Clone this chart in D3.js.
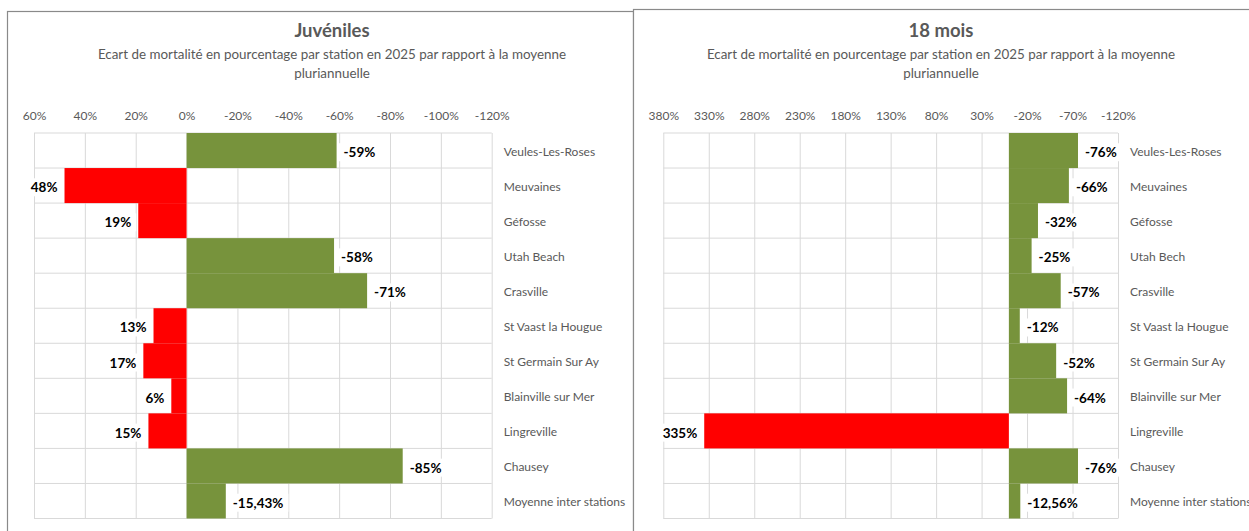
<!DOCTYPE html>
<html>
<head>
<meta charset="utf-8">
<script src="https://cdn.jsdelivr.net/npm/d3@7"></script>
<style>
  body { margin: 0; background: #fff; }
  svg text { font-family: Lato, "Open Sans", sans-serif; }
</style>
</head>
<body>
<div id="chart"></div>
<script>
// stations, top to bottom
const stationsJuv = ['Veules-Les-Roses', 'Meuvaines', 'Géfosse', 'Utah Beach', 'Crasville',
  'St Vaast la Hougue', 'St Germain Sur Ay', 'Blainville sur Mer', 'Lingreville', 'Chausey',
  'Moyenne inter stations'];
const stations18 = ['Veules-Les-Roses', 'Meuvaines', 'Géfosse', 'Utah Bech', 'Crasville',
  'St Vaast la Hougue', 'St Germain Sur Ay', 'Blainville sur Mer', 'Lingreville', 'Chausey',
  'Moyenne inter stations'];

// ecart de mortalite (%)
const juveniles = [-59, 48, 19, -58, -71, 13, 17, 6, 15, -85, -15.43];
const mois18 = [-76, -66, -32, -25, -57, -12, -52, -64, 335, -76, -12.56];

// axis ticks (reversed axes, as in the original)
const ticksJuv = [60, 40, 20, 0, -20, -40, -60, -80, -100, -120];
const ticks18 = [380, 330, 280, 230, 180, 130, 80, 30, -20, -70, -120];

const subtitle1 = 'Ecart de mortalité en pourcentage par station en 2025 par rapport à la moyenne';
const subtitle2 = 'pluriannuelle';

const green = '#77933c';
const red = '#ff0000';
const grey = '#595959';

const svg = d3.select('#chart').append('svg')
    .attr('width', 1249)
    .attr('height', 531);

svg.append('rect').attr('width', 1249).attr('height', 531).attr('fill', '#fff');

const fmt = v => (Number.isInteger(v) ? v : v.toFixed(2).replace('.', ',')) + '%';

function drawChart(opts) {
  const g = svg.append('g');

  // chart frame
  g.append('rect')
      .attr('x', opts.frame[0]).attr('y', opts.frame[1])
      .attr('width', opts.frame[2]).attr('height', 600)
      .attr('fill', '#fff')
      .attr('stroke', '#8a8a8a')
      .attr('stroke-width', 1.2);

  // titles
  g.append('text')
      .attr('x', opts.cx).attr('y', 37)
      .attr('text-anchor', 'middle')
      .attr('font-size', 18.5).attr('font-weight', 'bold')
      .attr('fill', grey)
      .text(opts.title);
  g.append('text')
      .attr('x', opts.cx).attr('y', 59)
      .attr('text-anchor', 'middle')
      .attr('font-size', 13.4).attr('fill', grey)
      .text(subtitle1);
  g.append('text')
      .attr('x', opts.cx).attr('y', 78)
      .attr('text-anchor', 'middle')
      .attr('font-size', 13.4).attr('fill', grey)
      .text(subtitle2);

  const top = 133, bottom = 518.5;
  const x = d3.scaleLinear()
      .domain([opts.ticks[0], opts.ticks[opts.ticks.length - 1]])
      .range([opts.left, opts.right]);
  const y = d3.scaleBand()
      .domain(opts.categories)
      .range([top, bottom])
      .padding(0);

  // vertical grid + tick labels
  const axis = g.append('g')
      .attr('transform', `translate(0,${top})`)
      .call(d3.axisTop(x)
          .tickValues(opts.ticks)
          .tickSize(-(bottom - top))
          .tickPadding(13)
          .tickFormat(d => d + '%'));
  axis.select('.domain').remove();
  axis.selectAll('line').attr('stroke', '#d9d9d9');
  axis.selectAll('text')
      .attr('fill', grey)
      .attr('font-size', 12)
      .style('font-family', 'Lato, "Open Sans", sans-serif');

  // horizontal grid
  const bounds = opts.categories.map(c => y(c)).concat([bottom]);
  g.selectAll('.hgrid')
      .data(bounds)
      .enter().append('line')
      .attr('class', 'hgrid')
      .attr('x1', opts.left).attr('x2', opts.right)
      .attr('y1', d => d).attr('y2', d => d)
      .attr('stroke', '#d9d9d9');

  // bars
  g.selectAll('.bar')
      .data(opts.values)
      .enter().append('rect')
      .attr('class', 'bar')
      .attr('x', d => Math.min(x(0), x(d)))
      .attr('width', d => Math.abs(x(d) - x(0)))
      .attr('y', (d, i) => y(opts.categories[i]))
      .attr('height', y.bandwidth())
      .attr('fill', d => d < 0 ? green : red);

  // data labels with white box
  const labels = g.selectAll('.lbl')
      .data(opts.values)
      .enter().append('g')
      .attr('class', 'lbl');
  labels.append('text')
      .attr('x', d => d < 0 ? x(d) + 7 : x(d) - 7)
      .attr('y', (d, i) => y(opts.categories[i]) + y.bandwidth() / 2 + 2)
      .attr('dy', '0.35em')
      .attr('text-anchor', d => d < 0 ? 'start' : 'end')
      .attr('font-size', 13.5)
      .attr('font-weight', 'bold')
      .attr('fill', '#000')
      .text(d => fmt(d));
  labels.each(function (d) {
    const t = d3.select(this).select('text');
    const b = t.node().getBBox();
    d3.select(this).insert('rect', 'text')
        .attr('x', b.x - 5).attr('y', b.y - 1)
        .attr('width', b.width + 10).attr('height', b.height + 2)
        .attr('fill', '#fff');
  });

  // category names
  g.selectAll('.cat')
      .data(opts.categories)
      .enter().append('text')
      .attr('class', 'cat')
      .attr('x', opts.right + 12)
      .attr('y', d => y(d) + y.bandwidth() / 2 + 1)
      .attr('dy', '0.35em')
      .attr('font-size', 12)
      .attr('fill', grey)
      .text(d => d);
}

drawChart({
  title: 'Juvéniles',
  categories: stationsJuv,
  values: juveniles,
  ticks: ticksJuv,
  frame: [7.5, 11.5, 626],
  cx: 332,
  left: 34,
  right: 491.7
});

drawChart({
  title: '18 mois',
  categories: stations18,
  values: mois18,
  ticks: ticks18,
  frame: [633.5, 9.5, 640],
  cx: 941,
  left: 663.3,
  right: 1118
});
</script>
</body>
</html>
